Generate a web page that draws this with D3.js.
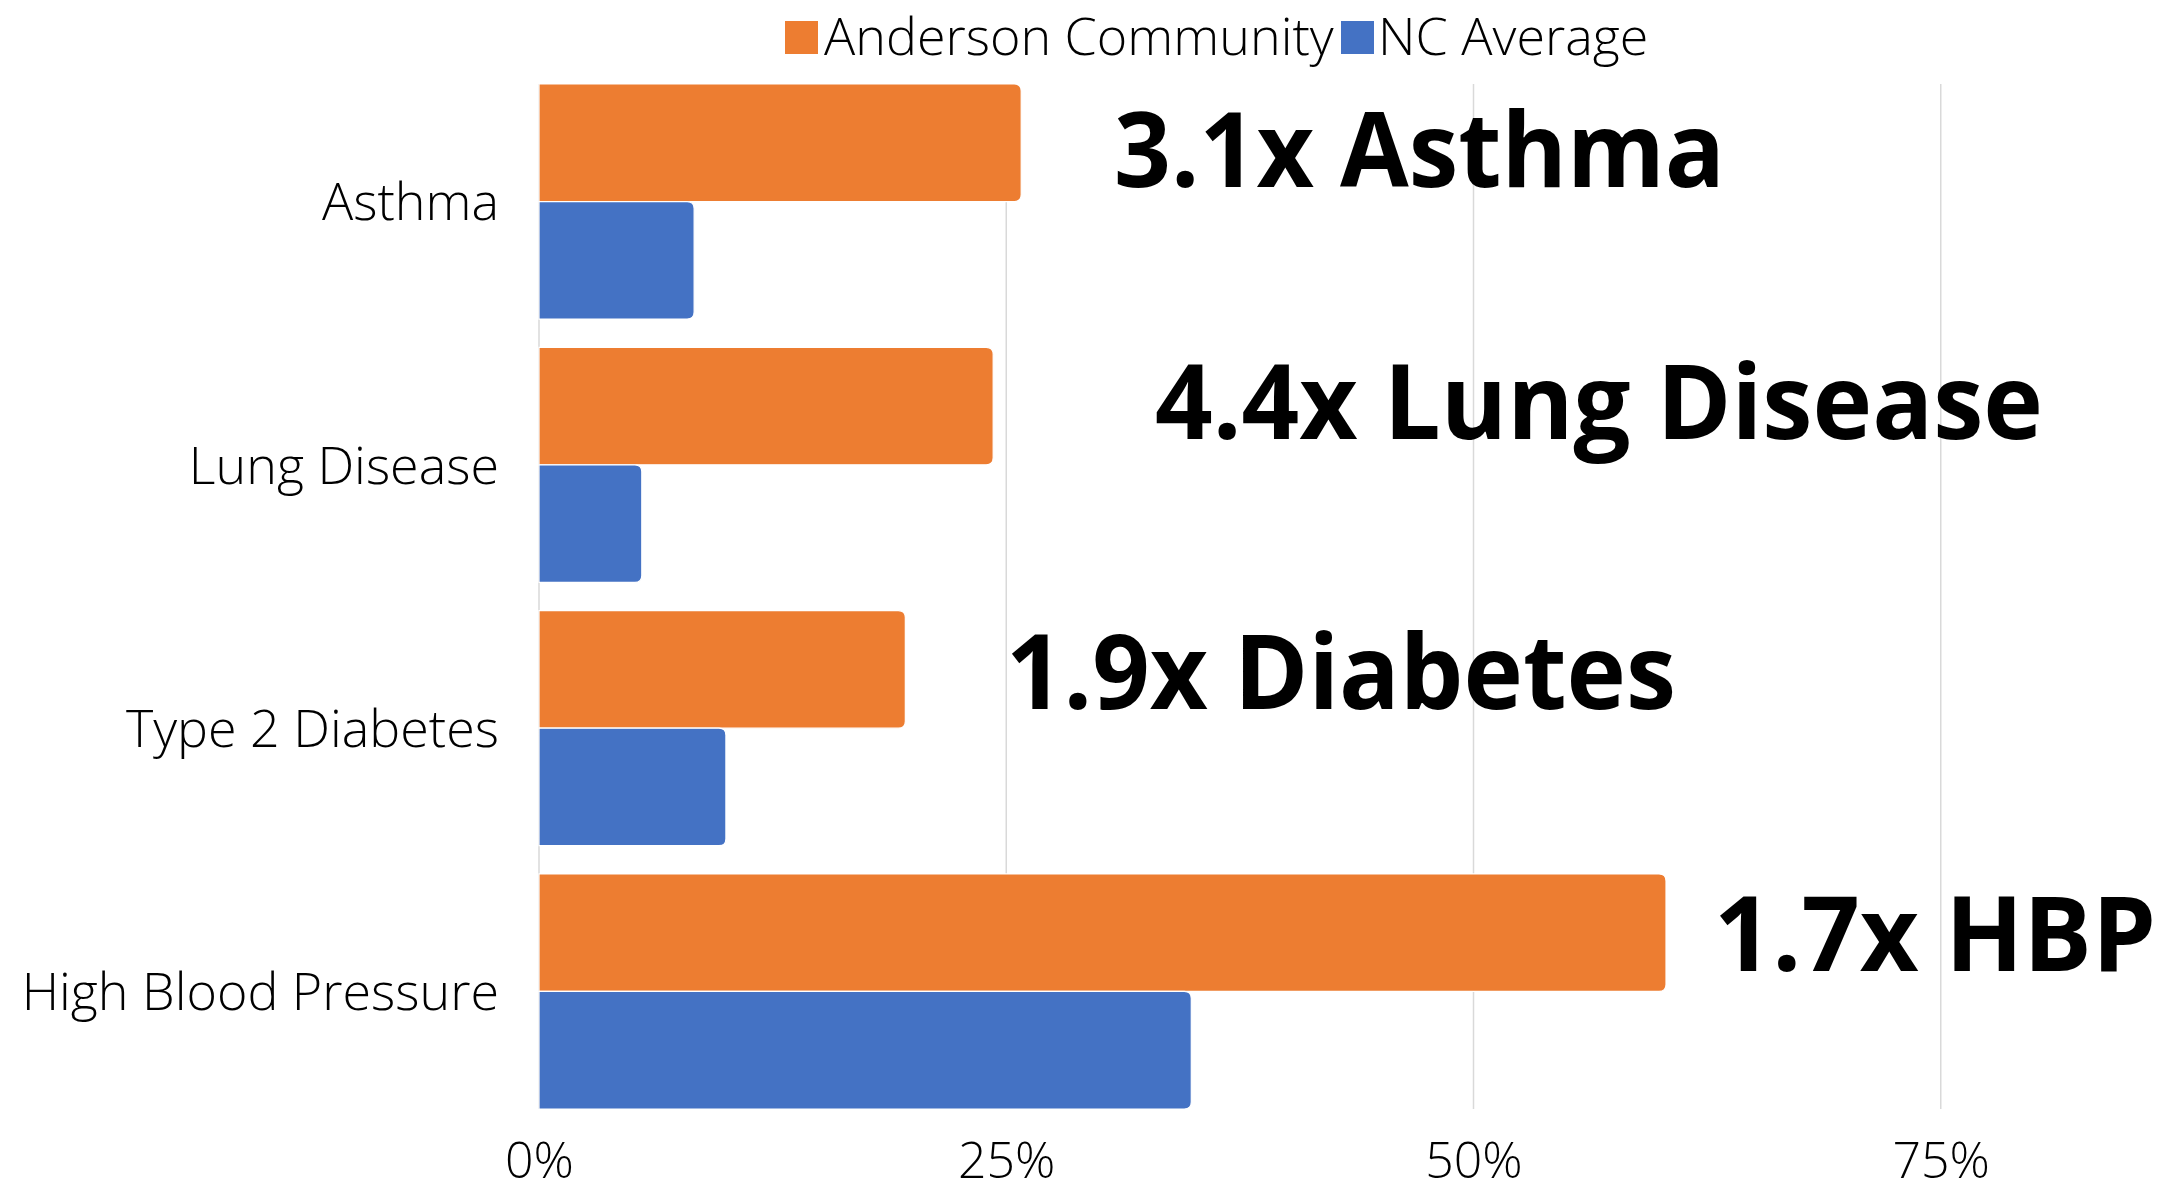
<!DOCTYPE html>
<html>
<head>
<meta charset="utf-8">
<script src="https://cdn.jsdelivr.net/npm/d3@7"></script>
<style>
  html, body { margin: 0; padding: 0; background: #ffffff; }
  svg { display: block; }
</style>
</head>
<body>
<script>
// ---- data ----
const categories = ["Asthma", "Lung Disease", "Type 2 Diabetes", "High Blood Pressure"];
const seriesNames = ["Anderson Community", "NC Average"];
const andersonValues = [0.258, 0.243, 0.196, 0.603];
const ncValues = [0.083, 0.055, 0.100, 0.349];
const tickValues = [0, 0.25, 0.5, 0.75];
const annotationTexts = ["3.1x Asthma", "4.4x Lung Disease", "1.9x Diabetes", "1.7x HBP"];

// ---- layout ----
const W = 2167, H = 1193;
const colors = ["#ED7D31", "#4472C4"];
const plot = { left: 539, top: 84, bottom: 1109 };
const pxPerUnit = 1869;
const annoLayout = [
  { x: 1114, y: 187, w: 611 },
  { x: 1155, y: 439, w: 888 },
  { x: 1006, y: 709, w: 670 },
  { x: 1714, y: 971, w: 442 }
];

const svg = d3.select("body").append("svg").attr("width", W).attr("height", H);

const x = d3.scaleLinear().domain([0, 0.87]).range([plot.left, plot.left + 0.87 * pxPerUnit]);
const y0 = d3.scaleBand().domain(categories).range([plot.top, plot.bottom]).paddingInner(0.107).paddingOuter(0);
const y1 = d3.scaleBand().domain(seriesNames).range([0, y0.bandwidth()]).padding(0);

// gridlines
svg.append("g").selectAll("line").data(tickValues).join("line")
  .attr("x1", d => x(d)).attr("x2", d => x(d))
  .attr("y1", plot.top).attr("y2", plot.bottom)
  .attr("stroke", "#D9D9D9").attr("stroke-width", 1.5);

// bars
const rows = categories.map((c, i) => ({ cat: c, vals: [andersonValues[i], ncValues[i]] }));
function barPath(x0, yTop, x1, h, r) {
  const w = x1 - x0;
  r = Math.min(r, w / 2, h / 2);
  return `M${x0},${yTop}H${x1 - r}Q${x1},${yTop} ${x1},${yTop + r}V${yTop + h - r}Q${x1},${yTop + h} ${x1 - r},${yTop + h}H${x0}Z`;
}
const groups = svg.append("g").selectAll("g").data(rows).join("g")
  .attr("transform", d => `translate(0,${y0(d.cat)})`);
groups.selectAll("path").data(d => d.vals.map((v, k) => ({ v, k }))).join("path")
  .attr("d", d => barPath(x(0), y1(seriesNames[d.k]), x(d.v), y1.bandwidth(), 7))
  .attr("fill", d => colors[d.k])
  .attr("stroke", "#ffffff").attr("stroke-width", 1.2);

// y axis (category labels)
const yAxis = svg.append("g").attr("transform", `translate(${plot.left},0)`)
  .call(d3.axisLeft(y0).tickSize(0).tickPadding(40));
yAxis.select(".domain").remove();
yAxis.selectAll("text")
  .attr("font-family", "'Open Sans', sans-serif").attr("font-weight", 300)
  .attr("font-size", 52).attr("fill", "#000").attr("dy", "0.36em");

// x axis
const xAxis = svg.append("g").attr("transform", `translate(0,${plot.bottom})`)
  .call(d3.axisBottom(x).tickValues(tickValues).tickFormat(d3.format(".0%")).tickSize(0).tickPadding(0));
xAxis.select(".domain").remove();
xAxis.selectAll("text")
  .attr("font-family", "'Open Sans', sans-serif").attr("font-weight", 300)
  .attr("font-size", 50).attr("fill", "#000").attr("y", 69).attr("dy", 0);

// legend
const legendItems = [
  { name: seriesNames[0], color: colors[0], sx: 785, tx: 824 },
  { name: seriesNames[1], color: colors[1], sx: 1341, tx: 1378 }
];
const lg = svg.append("g");
lg.selectAll("rect").data(legendItems).join("rect")
  .attr("x", d => d.sx).attr("y", 21).attr("width", 33).attr("height", 33)
  .attr("fill", d => d.color);
lg.selectAll("text").data(legendItems).join("text")
  .attr("x", d => d.tx).attr("y", 55)
  .attr("font-family", "'Open Sans', sans-serif").attr("font-weight", 300)
  .attr("font-size", 52).attr("fill", "#000")
  .text(d => d.name);

// annotations
svg.append("g").selectAll("text").data(annotationTexts).join("text")
  .attr("x", (d, i) => annoLayout[i].x).attr("y", (d, i) => annoLayout[i].y)
  .attr("textLength", (d, i) => annoLayout[i].w).attr("lengthAdjust", "spacingAndGlyphs")
  .attr("font-family", "'Open Sans', sans-serif").attr("font-weight", 700)
  .attr("font-size", 104).attr("fill", "#000")
  .text(d => d);
</script>
</body>
</html>
